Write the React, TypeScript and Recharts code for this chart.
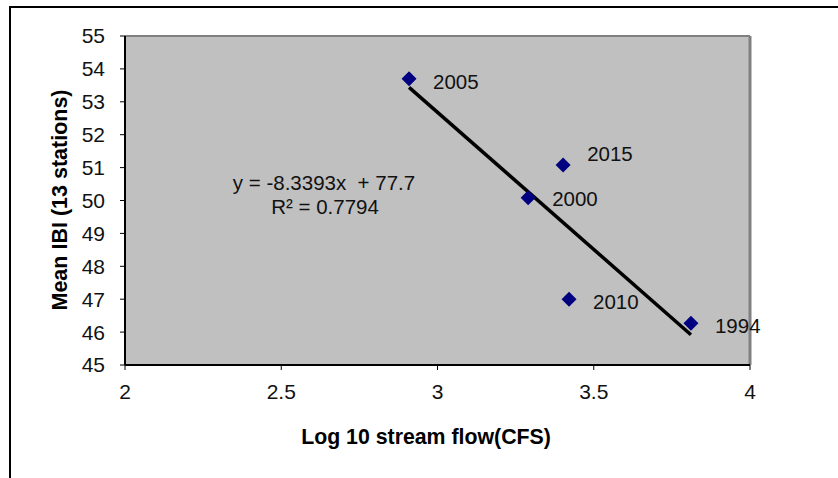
import React from 'react';
import {
  ScatterChart,
  Scatter,
  XAxis,
  YAxis,
  CartesianGrid,
  ReferenceLine,
  Customized,
} from 'recharts';

// observed points: log10 flow vs mean IBI, labelled by year
const years = [2005, 2015, 2000, 2010, 1994];
const logFlow = [2.909, 3.402, 3.29, 3.421, 3.811];
const meanIbi = [53.7, 51.08, 50.08, 47.0, 46.27];

// linear trendline endpoints (y = -8.3393x + 77.7)
const trendX = [2.909, 3.811];
const trendY = [53.44, 45.92];

const xTicks = [2, 2.5, 3, 3.5, 4];
const yTicks = [45, 46, 47, 48, 49, 50, 51, 52, 53, 54, 55];

const equationLines = ['y = -8.3393x  + 77.7', 'R² = 0.7794'];

const points = years.map((year, i) => ({ year, x: logFlow[i], y: meanIbi[i] }));
const trend = trendX.map((x, i) => ({ x, y: trendY[i] }));

const FONT = '"Liberation Sans", Arial, sans-serif';
// Excel placed the 2015 label higher than the rest
const labelNudge: Record<number, number> = { 2005: 3, 2015: -11, 2000: 1, 2010: 2, 1994: 2 };

function Diamond(props: any) {
  const { cx, cy, payload } = props;
  const r = 7.5;
  return (
    <g>
      <path
        d={`M${cx},${cy - r} L${cx + r},${cy} L${cx},${cy + r} L${cx - r},${cy} Z`}
        fill="#000080"
      />
      <text
        x={cx + 24}
        y={cy + (labelNudge[payload.year] ?? 0)}
        dominantBaseline="central"
        fontSize={20.5}
        fontFamily={FONT}
        fill="#111"
      >
        {payload.year}
      </text>
    </g>
  );
}

function Annotations() {
  return (
    <g fontFamily={FONT}>
      <text x={324} y={182} textAnchor="middle" dominantBaseline="central" fontSize={20.5} fill="#111" style={{ whiteSpace: 'pre' }}>
        {equationLines[0]}
      </text>
      <text x={325} y={206} textAnchor="middle" dominantBaseline="central" fontSize={20.5} fill="#111">
        {equationLines[1]}
      </text>
      <text
        x={60}
        y={200}
        transform="rotate(-90 60 200)"
        textAnchor="middle"
        dominantBaseline="central"
        fontSize={21.5}
        fontWeight="bold"
        fill="#000"
      >
        Mean IBI (13 stations)
      </text>
      <text x={426} y={437} textAnchor="middle" dominantBaseline="central" fontSize={21.3} fontWeight="bold" fill="#000">
        Log 10 stream flow(CFS)
      </text>
    </g>
  );
}

export default function App() {
  return (
    <div style={{ position: 'absolute', left: 0, top: 0, width: 838, height: 478, background: '#fff', overflow: 'hidden' }}>
      <div
        style={{
          position: 'absolute',
          left: 9,
          top: 6,
          width: 840,
          height: 480,
          borderTop: '2px solid #000',
          borderLeft: '2px solid #000',
        }}
      />
      <div style={{ position: 'absolute', left: 0, top: 0 }}>
        <ScatterChart width={838} height={478} margin={{ top: 36, right: 88, bottom: 0, left: 0 }}>
          <CartesianGrid horizontal={false} vertical={false} fill="#c0c0c0" fillOpacity={1} />
          <ReferenceLine y={55} stroke="#808080" strokeWidth={2} />
          <ReferenceLine x={4} stroke="#808080" strokeWidth={3} />
          <XAxis
            type="number"
            dataKey="x"
            domain={[2, 4]}
            ticks={xTicks}
            height={113}
            axisLine={{ stroke: '#000', strokeWidth: 2 }}
            tickLine={{ stroke: '#000' }}
            tickSize={5}
            tickMargin={14}
            tick={{ fill: '#111', fontSize: 21, fontFamily: FONT }}
          />
          <YAxis
            type="number"
            dataKey="y"
            domain={[45, 55]}
            ticks={yTicks}
            width={125}
            axisLine={{ stroke: '#000', strokeWidth: 2 }}
            tickLine={{ stroke: '#000' }}
            tickSize={5}
            tickMargin={15}
            tick={{ fill: '#111', fontSize: 21, fontFamily: FONT }}
          />
          <Customized component={Annotations} />
          <Scatter
            data={trend}
            line={{ stroke: '#000', strokeWidth: 3.5 }}
            shape={() => <g />}
            isAnimationActive={false}
          />
          <Scatter data={points} shape={Diamond} isAnimationActive={false} />
        </ScatterChart>
      </div>
    </div>
  );
}
